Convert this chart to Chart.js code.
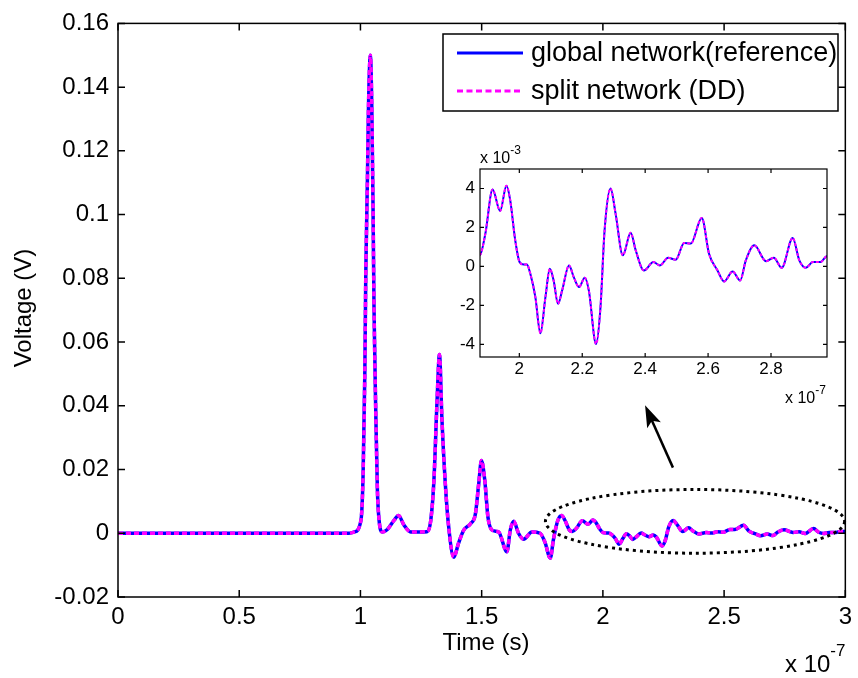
<!DOCTYPE html>
<html>
<head>
<meta charset="utf-8">
<script src="https://cdn.jsdelivr.net/npm/chart.js@4.4.1/dist/chart.umd.min.js"></script>
<style>
  body { margin: 0; background: #fff; }
  #wrap { position: relative; width: 858px; height: 678px; }
  #main { position: absolute; left: 0; top: 0; }
  #inset { position: absolute; left: 430px; top: 140px; }
</style>
</head>
<body>
<div id="wrap">
  <canvas id="main" width="858" height="678"></canvas>
  <canvas id="inset" width="410" height="270"></canvas>
</div>
<script>
// time in units of 1e-7 s
const timeData = [
  0, 0.9, 0.95, 0.974, 1.002, 1.011, 1.018, 1.022, 1.029, 1.033, 1.041, 1.047, 1.052, 1.056,
  1.063, 1.070, 1.077, 1.090, 1.111, 1.138, 1.157, 1.18, 1.207, 1.24, 1.275, 1.29, 1.303,
  1.316, 1.326, 1.336, 1.35, 1.364, 1.385, 1.405, 1.426, 1.454, 1.474, 1.488, 1.499, 1.513,
  1.526, 1.543, 1.57, 1.604, 1.618, 1.632, 1.652, 1.673, 1.707, 1.741, 1.762, 1.783, 1.796,
  1.814, 1.83, 1.844, 1.862,
  1.874, 1.892, 1.915, 1.939, 1.959, 1.971, 1.987, 2.001, 2.014, 2.024, 2.035, 2.051, 2.067,
  2.083, 2.097, 2.109, 2.123, 2.136, 2.158, 2.173, 2.190, 2.208, 2.221, 2.244, 2.258, 2.271,
  2.290, 2.306, 2.329, 2.354, 2.370, 2.396, 2.426, 2.447, 2.473, 2.497, 2.524, 2.545, 2.580,
  2.603, 2.630, 2.651, 2.678, 2.702, 2.720, 2.747, 2.784, 2.809, 2.834, 2.869, 2.890, 2.911,
  2.933, 2.957, 2.977, 3.0
];

// voltage in V
const voltageData = [
  0, 0, 0, 0.0004, 0.004, 0.0187, 0.05, 0.081, 0.112, 0.133, 0.150, 0.133, 0.102, 0.0706,
  0.039, 0.0134, 0.004, 0.0004, 0.0012, 0.004, 0.0056, 0.0025, 0.0004, 0.0004, 0.0005, 0.004, 0.0165,
  0.0415, 0.0561, 0.036, 0.0156, 0.002, -0.0075, -0.003, 0.001, 0.003, 0.006, 0.0156, 0.0228, 0.0165,
  0.005, 0.001, 0.0004, -0.0058, 0.001, 0.0038, 0, -0.0019, 0.0004, 0, -0.003, -0.0078, -0.002,
  0.004, 0.0056, 0.004, 0.001,
  0.00057, 0.00168, 0.00395, 0.00285, 0.00414, 0.0034, 0.00134, 0.00022, 0.0001, 0.0001, -0.00038, -0.00158, -0.00343,
  -0.00158, -0.00012, -0.00072, -0.00192, -0.00124, 0.00005, -0.00055, -0.00106, -0.00058, -0.00124, -0.00398, -0.00209, 0.00185,
  0.004, 0.00271, 0.00057, 0.00173, 0.00082, -0.00021, 0.00022, 0.00005, 0.00045, 0.00034, 0.0012, 0.00117, 0.00249,
  0.00065, -0.00021, -0.00077, -0.00026, -0.00072, 0.00031, 0.00108, 0.00027, 0.00045, -0.00007, 0.00146, 0.00031, -0.00007,
  0.00022, 0.00022, 0.00052, 0.00055
];

const seriesNames = ['global network(reference)', 'split network (DD)'];

const xTicks = [0, 0.5, 1, 1.5, 2, 2.5, 3];
const xTickLabels = ['0', '0.5', '1', '1.5', '2', '2.5', '3'];
const yTicks = [-0.02, 0, 0.02, 0.04, 0.06, 0.08, 0.1, 0.12, 0.14, 0.16];
const yTickLabels = ['-0.02', '0', '0.02', '0.04', '0.06', '0.08', '0.1', '0.12', '0.14', '0.16'];

const insetXTicks = [2, 2.2, 2.4, 2.6, 2.8];
const insetXTickLabels = ['2', '2.2', '2.4', '2.6', '2.8'];
const insetYTicks = [-0.004, -0.002, 0, 0.002, 0.004];
const insetYTickLabels = ['-4', '-2', '0', '2', '4'];

// zoom marker (data units): ellipse centre / radii, arrow tail -> tip
const zoomEllipse = [2.38, 0.00374, 0.617, 0.01];
const zoomArrow = [2.289, 0.0206, 2.174, 0.0402];

const FONT = "'Liberation Sans', Arial, sans-serif";
const BLUE = '#0000ff';
const MAGENTA = '#ff00ff';

const points = timeData.map((t, i) => ({ x: t, y: voltageData[i] }));

function makeDatasets(width, dash) {
  return [
    {
      label: seriesNames[1],
      data: points,
      borderColor: MAGENTA,
      borderWidth: width,
      borderDash: dash,
      pointRadius: 0,
      cubicInterpolationMode: 'monotone',
      clip: 0,
      order: 0
    },
    {
      label: seriesNames[0],
      data: points,
      borderColor: BLUE,
      borderWidth: width,
      pointRadius: 0,
      cubicInterpolationMode: 'monotone',
      clip: 0,
      order: 1
    }
  ];
}

// axis box with inward ticks on all four sides (matlab style)
function drawFrame(chart, tickLen, lw) {
  const { ctx, chartArea: a, scales: { x, y } } = chart;
  ctx.save();
  ctx.strokeStyle = '#000';
  ctx.lineWidth = lw;
  ctx.beginPath();
  x.ticks.forEach(t => {
    const px = x.getPixelForValue(t.value);
    ctx.moveTo(px, a.bottom); ctx.lineTo(px, a.bottom - tickLen);
    ctx.moveTo(px, a.top); ctx.lineTo(px, a.top + tickLen);
  });
  y.ticks.forEach(t => {
    const py = y.getPixelForValue(t.value);
    ctx.moveTo(a.left, py); ctx.lineTo(a.left + tickLen, py);
    ctx.moveTo(a.right, py); ctx.lineTo(a.right - tickLen, py);
  });
  ctx.stroke();
  ctx.strokeRect(a.left, a.top, a.right - a.left, a.bottom - a.top);
  ctx.restore();
}

// "x 10^n" exponent label
function drawExponent(ctx, left, mid, exp, size) {
  ctx.save();
  ctx.fillStyle = '#000';
  ctx.textAlign = 'left';
  ctx.textBaseline = 'middle';
  ctx.font = size + 'px ' + FONT;
  ctx.fillText('x 10', left, mid);
  const w = ctx.measureText('x 10').width;
  ctx.font = Math.round(size * 0.72) + 'px ' + FONT;
  ctx.fillText(exp, left + w, mid - size * 0.55);
  ctx.restore();
}

const mainDecor = {
  id: 'mainDecor',
  afterDraw(chart) {
    const { ctx, scales: { x, y } } = chart;
    drawFrame(chart, 7, 1.5);

    // dotted ellipse around the zoomed region
    const cx = x.getPixelForValue(zoomEllipse[0]);
    const cy = y.getPixelForValue(zoomEllipse[1]);
    const rx = x.getPixelForValue(zoomEllipse[0] + zoomEllipse[2]) - cx;
    const ry = cy - y.getPixelForValue(zoomEllipse[1] + zoomEllipse[3]);
    ctx.save();
    ctx.strokeStyle = '#000';
    ctx.lineWidth = 3;
    ctx.setLineDash([3, 4]);
    ctx.beginPath();
    ctx.ellipse(cx, cy, rx, ry, 0, 0, Math.PI * 2);
    ctx.stroke();
    ctx.restore();

    // arrow pointing to the inset
    const x0 = x.getPixelForValue(zoomArrow[0]), y0 = y.getPixelForValue(zoomArrow[1]);
    const x1 = x.getPixelForValue(zoomArrow[2]), y1 = y.getPixelForValue(zoomArrow[3]);
    const ang = Math.atan2(y1 - y0, x1 - x0);
    const headLen = 22, headW = 7.5;
    const bx = x1 - headLen * Math.cos(ang), by = y1 - headLen * Math.sin(ang);
    ctx.save();
    ctx.strokeStyle = '#000';
    ctx.fillStyle = '#000';
    ctx.lineWidth = 2.5;
    ctx.beginPath();
    ctx.moveTo(x0, y0);
    ctx.lineTo(x1 - 14 * Math.cos(ang), y1 - 14 * Math.sin(ang));
    ctx.stroke();
    ctx.beginPath();
    ctx.moveTo(x1, y1);
    ctx.lineTo(bx + headW * Math.sin(ang), by - headW * Math.cos(ang));
    ctx.lineTo(x1 - (headLen - 5) * Math.cos(ang), y1 - (headLen - 5) * Math.sin(ang));
    ctx.lineTo(bx - headW * Math.sin(ang), by + headW * Math.cos(ang));
    ctx.closePath();
    ctx.fill();
    ctx.restore();

    // legend
    ctx.save();
    ctx.fillStyle = '#fff';
    ctx.fillRect(443, 34, 395, 77);
    ctx.strokeStyle = '#000';
    ctx.lineWidth = 1.5;
    ctx.strokeRect(443, 34, 395, 77);
    ctx.lineWidth = 3;
    ctx.strokeStyle = BLUE;
    ctx.beginPath(); ctx.moveTo(457, 53); ctx.lineTo(523, 53); ctx.stroke();
    ctx.strokeStyle = MAGENTA;
    ctx.setLineDash([6, 3.5]);
    ctx.beginPath(); ctx.moveTo(457, 91); ctx.lineTo(523, 91); ctx.stroke();
    ctx.setLineDash([]);
    ctx.fillStyle = '#000';
    ctx.font = '27px ' + FONT;
    ctx.textAlign = 'left';
    ctx.textBaseline = 'middle';
    ctx.fillText(seriesNames[0], 531, 54);
    ctx.fillText(seriesNames[1], 531, 92);

    // axis titles
    ctx.font = '24px ' + FONT;
    ctx.textAlign = 'center';
    ctx.textBaseline = 'alphabetic';
    ctx.fillText('Time (s)', 486, 650);
    ctx.translate(31, 308);
    ctx.rotate(-Math.PI / 2);
    ctx.fillText('Voltage (V)', 0, 0);
    ctx.restore();

    drawExponent(ctx, 785, 665, '-7', 24);
  }
};

const insetDecor = {
  id: 'insetDecor',
  beforeDatasetsDraw(chart) {
    const { ctx, chartArea: a } = chart;
    ctx.save();
    ctx.fillStyle = '#fff';
    ctx.fillRect(a.left, a.top, a.right - a.left, a.bottom - a.top);
    ctx.restore();
  },
  afterDraw(chart) {
    drawFrame(chart, 4, 1.2);
    drawExponent(chart.ctx, 50, 19, '-3', 16);
    drawExponent(chart.ctx, 355, 259, '-7', 16);
  }
};

new Chart(document.getElementById('main'), {
  type: 'line',
  data: { datasets: makeDatasets(3.5, [5, 3]) },
  options: {
    responsive: false,
    animation: false,
    devicePixelRatio: 1,
    events: [],
    layout: { padding: { top: 20, right: 10, left: 0, bottom: 0 } },
    plugins: { legend: { display: false }, tooltip: { enabled: false } },
    scales: {
      x: {
        type: 'linear',
        min: 0,
        max: 3,
        afterBuildTicks: s => { s.ticks = xTicks.map(v => ({ value: v })); },
        afterFit: s => { s.height = 81; },
        grid: { display: false, drawTicks: false },
        border: { display: false },
        ticks: {
          autoSkip: false,
          maxRotation: 0,
          padding: 6,
          color: '#000',
          font: { family: FONT, size: 24 },
          callback: (v, i) => xTickLabels[i]
        }
      },
      y: {
        type: 'linear',
        min: -0.02,
        max: 0.16,
        afterBuildTicks: s => { s.ticks = yTicks.map(v => ({ value: v })); },
        afterFit: s => { s.width = 118; },
        grid: { display: false, drawTicks: false },
        border: { display: false },
        ticks: {
          autoSkip: false,
          padding: 9,
          color: '#000',
          font: { family: FONT, size: 24 },
          callback: (v, i) => yTickLabels[i]
        }
      }
    }
  },
  plugins: [mainDecor]
});

new Chart(document.getElementById('inset'), {
  type: 'line',
  data: { datasets: makeDatasets(2, [3, 2]) },
  options: {
    responsive: false,
    animation: false,
    devicePixelRatio: 1,
    events: [],
    layout: { padding: { top: 29, right: 13, left: 0, bottom: 0 } },
    plugins: { legend: { display: false }, tooltip: { enabled: false } },
    scales: {
      x: {
        type: 'linear',
        min: 1.875,
        max: 2.978,
        afterBuildTicks: s => { s.ticks = insetXTicks.map(v => ({ value: v })); },
        afterFit: s => { s.height = 53; },
        grid: { display: false, drawTicks: false },
        border: { display: false },
        ticks: {
          autoSkip: false,
          maxRotation: 0,
          padding: 2,
          color: '#000',
          font: { family: FONT, size: 17 },
          callback: (v, i) => insetXTickLabels[i]
        }
      },
      y: {
        type: 'linear',
        min: -0.00465,
        max: 0.005,
        afterBuildTicks: s => { s.ticks = insetYTicks.map(v => ({ value: v })); },
        afterFit: s => { s.width = 50; },
        grid: { display: false, drawTicks: false },
        border: { display: false },
        ticks: {
          autoSkip: false,
          padding: 5,
          color: '#000',
          font: { family: FONT, size: 17 },
          callback: (v, i) => insetYTickLabels[i]
        }
      }
    }
  },
  plugins: [insetDecor]
});
</script>
</body>
</html>
